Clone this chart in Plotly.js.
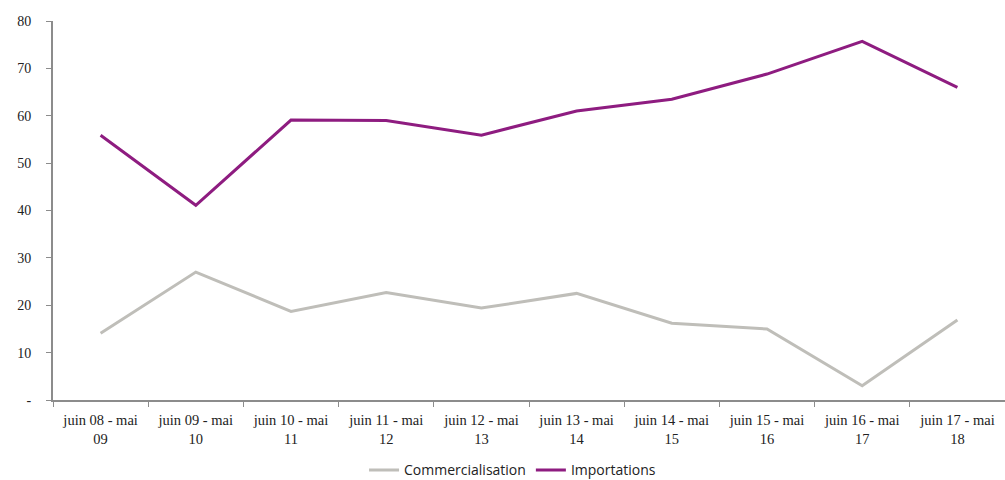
<!DOCTYPE html>
<html>
<head>
<meta charset="utf-8">
<script src="https://cdn.plot.ly/plotly-3.0.1.min.js"></script>
<style>html,body{margin:0;padding:0;background:#fff;}#chart{width:1005px;height:480px;}</style>
</head>
<body>
<div id="chart"></div>
<script>
const categories = ["juin 08 - mai<br>09","juin 09 - mai<br>10","juin 10 - mai<br>11","juin 11 - mai<br>12","juin 12 - mai<br>13","juin 13 - mai<br>14","juin 14 - mai<br>15","juin 15 - mai<br>16","juin 16 - mai<br>17","juin 17 - mai<br>18"];
const commercialisation = [14.1, 27.0, 18.7, 22.7, 19.4, 22.5, 16.2, 15.0, 3.0, 16.9];
const importations = [55.9, 41.1, 59.1, 59.0, 55.9, 61.0, 63.5, 68.8, 75.7, 66.0];
const yTickVals = [0, 10, 20, 30, 40, 50, 60, 70, 80];
const yTickText = ["-", "10", "20", "30", "40", "50", "60", "70", "80"];

const serif = "'Liberation Serif', 'DejaVu Serif', serif";

const traces = [
  {x: categories, y: commercialisation, name: "Commercialisation", type: "scatter", mode: "lines",
   line: {color: "#BFBEB9", width: 3}},
  {x: categories, y: importations, name: "Importations", type: "scatter", mode: "lines",
   line: {color: "#8E1C80", width: 3}}
];

const layout = {
  width: 1005, height: 480,
  margin: {l: 53, r: 0, t: 21, b: 80},
  paper_bgcolor: "#fff", plot_bgcolor: "#fff",
  font: {family: serif, size: 14, color: "#222"},
  xaxis: {
    type: "category", showgrid: false, zeroline: false,
    showline: true, linecolor: "#8c8c8c", linewidth: 2,
    ticks: "outside", tickson: "boundaries", ticklen: 5, tickcolor: "#8c8c8c",
    tickfont: {family: serif, size: 14.5, color: "#222"},
    ticklabelstandoff: 6,
    range: [-0.5, 9.5]
  },
  yaxis: {
    range: [0, 80], tickvals: yTickVals, ticktext: yTickText,
    showgrid: false, zeroline: false,
    showline: true, linecolor: "#8c8c8c", linewidth: 2,
    ticks: "outside", ticklen: 5, tickcolor: "#8c8c8c",
    ticklabelstandoff: 12,
    tickfont: {family: serif, size: 14, color: "#222"}
  },
  showlegend: true,
  legend: {
    orientation: "h", xref: "container", yref: "container",
    x: 0.51, xanchor: "center", y: 0.02, yanchor: "middle",
    font: {family: "'Open Sans', 'Liberation Sans', sans-serif", size: 14, color: "#222"},
    itemwidth: 30, tracegroupgap: 0
  }
};

Plotly.newPlot("chart", traces, layout, {displayModeBar: false, staticPlot: true});
</script>
</body>
</html>
